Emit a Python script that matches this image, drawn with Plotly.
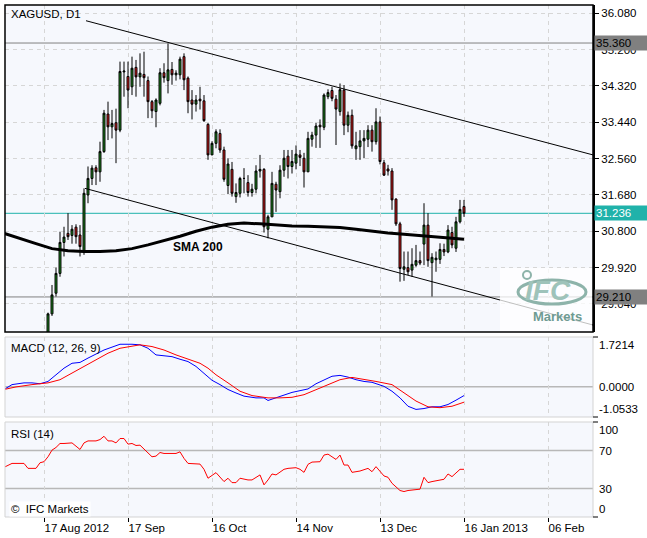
import plotly.graph_objects as go

W, H = 647, 538

# ---- data ----
# bar number: 10 = 17 Aug 2012 ... 115 = 16 Jan 2013 (last bar)
bars = list(range(116))

opens = [27.60, 27.85, 27.70, 27.95, 27.85, 28.05, 27.75, 27.90, 27.80, 27.70,
         27.95, 28.20, 28.80, 29.30, 29.78, 30.53, 30.75, 30.70, 30.90, 30.71,
         30.31, 31.68, 32.08, 32.34, 32.24, 32.73, 33.64, 33.33, 33.43, 33.25,
         34.66, 34.55, 34.30, 34.77, 34.54, 34.60, 34.45, 33.94, 33.70, 33.90,
         34.64, 34.45, 34.72, 34.59, 34.59, 35.03, 34.51, 33.98, 33.88, 34.00,
         33.96, 33.39, 32.65, 32.93, 33.17, 32.77, 31.91, 32.30, 31.64, 31.72,
         32.08, 31.98, 31.74, 31.82, 32.26, 32.30, 30.85, 31.15, 31.94, 31.76,
         32.28, 32.62, 32.37, 32.45, 32.65, 32.57, 32.24, 33.03, 33.13, 33.37,
         33.32, 34.06, 34.21, 34.00, 33.70, 34.22, 33.37, 33.61, 32.80, 32.85,
         32.99, 33.03, 33.25, 32.97, 33.45, 32.46, 32.31, 32.26, 31.58, 30.98,
         29.88, 29.92, 29.86, 29.98, 30.09, 30.49, 30.95, 30.04, 30.11, 30.12,
         30.36, 30.30, 30.77, 30.39, 31.03, 31.40]
highs = [27.95, 28.05, 28.00, 28.10, 28.20, 28.15, 28.00, 28.10, 28.00, 28.05,
         28.30, 28.83, 29.50, 29.92, 30.79, 30.91, 31.24, 30.95, 30.97, 30.95,
         31.84, 32.37, 32.40, 32.40, 32.97, 33.74, 33.94, 33.74, 33.77, 34.91,
         34.91, 34.91, 35.03, 34.95, 35.11, 35.15, 34.55, 33.98, 34.02, 34.75,
         34.87, 35.35, 34.90, 34.70, 35.03, 35.11, 34.55, 34.22, 34.10, 34.30,
         34.10, 33.42, 32.98, 33.27, 33.27, 32.85, 32.57, 32.48, 31.96, 32.12,
         32.33, 32.16, 31.95, 32.40, 32.65, 32.33, 31.20, 32.24, 32.00, 32.40,
         32.77, 32.77, 32.77, 32.88, 32.77, 32.70, 33.21, 33.21, 33.43, 33.51,
         34.14, 34.24, 34.30, 34.10, 34.38, 34.34, 33.70, 33.75, 33.21, 33.25,
         33.25, 33.37, 33.37, 33.78, 33.58, 32.53, 32.41, 32.33, 31.60, 31.03,
         30.31, 30.31, 30.39, 30.47, 30.31, 31.48, 31.24, 30.27, 30.31, 30.51,
         30.50, 30.95, 30.91, 31.15, 31.56, 31.56]
lows = [27.40, 27.55, 27.55, 27.75, 27.70, 27.65, 27.60, 27.70, 27.55, 27.60,
        27.85, 28.15, 28.75, 29.22, 29.70, 30.19, 30.59, 30.50, 30.50, 30.19,
        30.23, 31.48, 31.92, 31.92, 32.00, 32.70, 33.01, 33.05, 32.45, 33.20,
        34.06, 33.78, 34.10, 34.06, 34.30, 34.06, 33.54, 33.54, 33.32, 33.85,
        34.40, 34.14, 34.35, 34.45, 34.48, 34.22, 33.66, 33.51, 33.70, 33.75,
        33.45, 32.53, 32.65, 32.81, 32.70, 32.00, 31.70, 31.64, 31.49, 31.62,
        31.72, 31.64, 31.64, 31.72, 32.10, 30.77, 30.63, 31.15, 31.27, 31.60,
        32.12, 32.08, 32.20, 32.30, 32.38, 31.86, 32.24, 32.85, 32.82, 32.82,
        33.25, 34.00, 33.95, 32.89, 33.60, 33.13, 33.20, 32.80, 32.53, 32.53,
        32.57, 32.84, 32.73, 32.90, 32.42, 32.14, 32.15, 31.32, 30.93, 29.58,
        29.60, 29.74, 29.70, 29.94, 29.98, 29.98, 29.94, 29.22, 29.82, 30.01,
        30.20, 30.27, 30.39, 30.30, 30.99, 31.15]
closes = [27.85, 27.70, 27.95, 27.85, 28.05, 27.75, 27.90, 27.80, 27.70, 27.95,
          28.20, 28.80, 29.26, 29.78, 30.53, 30.66, 30.67, 30.85, 30.67, 30.43,
          31.72, 32.08, 32.33, 32.24, 32.73, 33.66, 33.33, 33.41, 33.25, 34.67,
          34.68, 34.22, 34.75, 34.54, 34.63, 34.52, 33.94, 33.72, 33.98, 34.64,
          34.52, 34.71, 34.59, 34.63, 34.97, 34.47, 33.94, 33.88, 33.98, 33.96,
          33.48, 32.65, 32.93, 33.21, 32.77, 32.06, 32.43, 31.72, 31.74, 32.08,
          32.08, 31.74, 31.82, 32.26, 32.30, 30.91, 31.15, 31.96, 31.80, 32.28,
          32.57, 32.37, 32.49, 32.67, 32.59, 32.24, 33.05, 33.13, 33.35, 33.33,
          34.10, 34.16, 34.02, 33.76, 34.23, 33.37, 33.61, 32.87, 32.87, 32.99,
          33.05, 33.25, 32.97, 33.45, 32.49, 32.16, 32.26, 31.56, 30.98, 29.90,
          29.94, 29.82, 30.00, 30.09, 30.03, 30.95, 30.09, 30.17, 30.15, 30.36,
          30.30, 30.83, 30.47, 31.03, 31.33, 31.236]

# SMA 200 (read every few bars)
sma_idx = [0, 4, 8, 12, 16, 20, 24, 28, 32, 36, 40, 44, 48, 52, 56, 60, 64,
           68, 72, 76, 80, 84, 88, 92, 96, 100, 104, 108, 112, 115]
sma_val = [30.75, 30.62, 30.50, 30.38, 30.33, 30.31, 30.31, 30.33, 30.38, 30.47,
           30.57, 30.68, 30.80, 30.90, 30.97, 31.00, 30.98, 30.95, 30.93, 30.92,
           30.91, 30.89, 30.85, 30.80, 30.76, 30.73, 30.70, 30.67, 30.64, 30.61]

# MACD (12, 26, 9)
macd_idx = [0, 2, 5, 7, 9, 11, 13, 15, 17, 19, 21, 23, 25, 27, 29, 32, 34, 36,
            38, 40, 42, 44, 46, 48, 50, 52, 54, 56, 58, 60, 63, 65, 66, 68, 70,
            72, 74, 76, 78, 80, 82, 84, 86, 88, 90, 92, 95, 97, 99, 101, 103,
            105, 107, 109, 111, 113, 115]
macd_val = [-0.10, 0.07, 0.13, 0.13, 0.10, 0.18, 0.41, 0.64, 0.81, 0.84, 0.99,
            1.14, 1.27, 1.37, 1.47, 1.47, 1.45, 1.33, 1.10, 1.07, 1.04, 0.95,
            0.87, 0.70, 0.47, 0.22, 0.07, -0.10, -0.22, -0.33, -0.39, -0.39,
            -0.48, -0.39, -0.28, -0.20, -0.14, -0.08, 0.10, 0.24, 0.36, 0.39,
            0.33, 0.24, 0.18, 0.15, 0.01, -0.16, -0.39, -0.68, -0.79, -0.76,
            -0.70, -0.70, -0.62, -0.47, -0.31]
signal_idx = [0, 3, 7, 11, 14, 17, 20, 23, 26, 29, 32, 34, 37, 40, 43, 46, 49,
              51, 53, 56, 59, 62, 66, 69, 72, 75, 78, 81, 84, 87, 90, 93, 97,
              100, 103, 106, 109, 112, 115]
signal_val = [-0.10, -0.01, 0.07, 0.13, 0.24, 0.47, 0.70, 0.93, 1.16, 1.33, 1.39,
              1.45, 1.39, 1.27, 1.10, 0.95, 0.81, 0.64, 0.41, 0.13, -0.16, -0.31,
              -0.39, -0.39, -0.37, -0.28, -0.10, 0.07, 0.24, 0.32, 0.26, 0.18,
              0.07, -0.22, -0.50, -0.70, -0.73, -0.68, -0.54]

# RSI (14)
rsi_idx = [0, 2, 4, 5, 6, 8, 9, 10, 11, 12, 13, 14, 15, 17, 19, 20, 21, 23, 24,
           25, 26, 27, 28, 29, 30, 31, 32, 33, 34, 36, 37, 38, 39, 40, 41, 43,
           44, 45, 46, 48, 49, 50, 51, 53, 55, 56, 57, 58, 59, 61, 62, 64, 65,
           66, 67, 68, 70, 71, 73, 74, 75, 76, 77, 79, 80, 81, 82, 83, 84, 85,
           86, 87, 88, 89, 91, 92, 93, 95, 96, 97, 99, 100, 101, 103, 104, 105,
           106, 107, 109, 110, 111, 112, 114, 115]
rsi_val = [52.3, 56.4, 56.4, 56.4, 51.2, 51.2, 57.1, 58.2, 63.4, 70.4, 73.2,
           77.4, 77.4, 78.0, 71.1, 78.0, 80.1, 80.1, 81.5, 85.0, 80.1, 80.1,
           78.0, 82.6, 82.6, 76.7, 77.4, 75.3, 75.6, 66.9, 63.4, 64.1, 67.9,
           66.9, 66.9, 66.9, 68.6, 61.7, 56.4, 55.7, 55.7, 50.2, 40.8, 46.7,
           37.3, 40.8, 36.2, 36.2, 40.8, 39.0, 39.0, 44.3, 33.8, 39.0, 45.3,
           44.3, 50.2, 51.2, 51.9, 50.2, 47.0, 55.4, 57.8, 58.2, 65.2, 66.2,
           63.4, 60.6, 65.2, 54.7, 54.7, 47.0, 47.7, 48.4, 51.2, 47.7, 53.0,
           43.2, 41.8, 35.5, 27.9, 26.8, 27.9, 29.3, 29.3, 41.8, 36.2, 37.3,
           39.0, 39.7, 45.3, 42.5, 50.2, 50.2]

# axis ticks
date_ticks = [10, 31, 52, 73, 94, 115, 136]
date_labels = ["17 Aug 2012", "17 Sep", "16 Oct", "14 Nov", "13 Dec",
               "16 Jan 2013", "06 Feb"]
price_ticks = [36.08, 35.20, 34.32, 33.44, 32.56, 31.68, 30.80, 29.92, 29.04]

# drawn objects
hlines = [35.36, 29.21]
bid = 31.236
upper_trend = [(20.5, 35.90), (147.25, 32.65)]
lower_trend = [(20.25, 31.84), (147.25, 28.53)]

# ---- layout in pixels ----
def fx(px):
    return px / W

def fy(py):
    return 1 - py / H

X0, X1 = 5, 593
MAIN = (5, 332)
MACD_P = (337, 417)
RSI_P = (422, 517)
xr = [0.25, 147.25]
yr = [28.361, 36.281]
FONT = "Liberation Sans, Arial, sans-serif"
GRID = "#D6D6D6"

fig = go.Figure()

fig.add_trace(go.Candlestick(
    x=bars, open=opens, high=highs, low=lows, close=closes,
    increasing=dict(fillcolor="#1E8C1E", line=dict(color="black", width=1)),
    decreasing=dict(fillcolor="#E01B1B", line=dict(color="black", width=1)),
    whiskerwidth=0, xaxis="x", yaxis="y", showlegend=False))
fig.add_trace(go.Scatter(x=sma_idx, y=sma_val, mode="lines",
                         line=dict(color="black", width=3),
                         xaxis="x", yaxis="y", showlegend=False))

fig.add_trace(go.Scatter(x=macd_idx, y=macd_val, mode="lines",
                         line=dict(color="#0000FF", width=1),
                         xaxis="x2", yaxis="y2", showlegend=False))
fig.add_trace(go.Scatter(x=signal_idx, y=signal_val, mode="lines",
                         line=dict(color="#FF0000", width=1),
                         xaxis="x2", yaxis="y2", showlegend=False))

fig.add_trace(go.Scatter(x=rsi_idx, y=rsi_val, mode="lines",
                         line=dict(color="#FF0000", width=1),
                         xaxis="x3", yaxis="y3", showlegend=False))

shapes = []
# horizontal lines / bid line
for v in hlines:
    shapes.append(dict(type="line", xref="paper", yref="y", x0=fx(X0), x1=fx(X1),
                       y0=v, y1=v, line=dict(color="#808080", width=1), layer="below"))
shapes.append(dict(type="line", xref="paper", yref="y", x0=fx(X0), x1=fx(X1),
                   y0=bid, y1=bid, line=dict(color="#20B2AA", width=1), layer="below"))
# channel
for (a, b) in (upper_trend, lower_trend):
    shapes.append(dict(type="line", xref="x", yref="y", x0=a[0], y0=a[1],
                       x1=b[0], y1=b[1], line=dict(color="black", width=1)))
# indicator levels
shapes.append(dict(type="line", xref="paper", yref="y2", x0=fx(X0), x1=fx(X1),
                   y0=0, y1=0, line=dict(color="#B8B8B8", width=1.5), layer="below"))
for v in (70, 30):
    shapes.append(dict(type="line", xref="paper", yref="y3", x0=fx(X0), x1=fx(X1),
                       y0=v, y1=v, line=dict(color="#B8B8B8", width=1.5), layer="below"))
# logo backdrop
shapes.append(dict(type="rect", xref="paper", yref="paper", x0=fx(500), x1=fx(592),
                   y0=fy(331), y1=fy(268), fillcolor="white", opacity=0.75,
                   line=dict(width=0)))
shapes.append(dict(type="circle", xref="paper", yref="paper", x0=fx(518), x1=fx(586),
                   y0=fy(304), y1=fy(280), line=dict(color="#8DB3AA", width=3)))
shapes.append(dict(type="circle", xref="paper", yref="paper", x0=fx(523), x1=fx(531),
                   y0=fy(279), y1=fy(271), line=dict(color="#8DB3AA", width=2)))
# panel borders
shapes.append(dict(type="rect", xref="paper", yref="paper", x0=fx(X0), x1=fx(X1),
                   y0=fy(MAIN[1]), y1=fy(MAIN[0]), line=dict(color="black", width=1.5)))
for p in (MACD_P, RSI_P):
    shapes.append(dict(type="rect", xref="paper", yref="paper", x0=fx(X0), x1=fx(X1),
                       y0=fy(p[1]), y1=fy(p[0]), line=dict(color="#D3D3D3", width=1)))
    for py in p:
        shapes.append(dict(type="line", xref="paper", yref="paper", x0=fx(X1),
                           x1=fx(X1 + 5), y0=fy(py), y1=fy(py),
                           line=dict(color="black", width=1)))

ann = []
def label(x, y, text, size=11.5, xref="paper", yref="paper", **kw):
    d = dict(x=x, y=y, xref=xref, yref=yref, text=text, showarrow=False,
             font=dict(family=FONT, size=size, color=kw.pop("color", "black")))
    d.update(kw)
    ann.append(d)

label(fx(9), fy(14), "XAGUSD, D1", xanchor="left", yanchor="middle")
label(fx(9), fy(348), "MACD (12, 26, 9)", xanchor="left", yanchor="middle")
label(fx(9), fy(434), "RSI (14)", xanchor="left", yanchor="middle")
label(fx(9), fy(509), "\u00a9  IFC Markets", xanchor="left", yanchor="middle",
      bgcolor="white")
label(48.5, 30.42, "<b>SMA 200</b>", size=12, xref="x", yref="y",
      xanchor="center", yanchor="middle")

# subpanel scale labels
label(fx(597), 1.7214, "1.7214", yref="y2", xanchor="left", yanchor="top")
label(fx(597), 0, "0.0000", yref="y2", xanchor="left", yanchor="middle")
label(fx(597), -1.0533, "-1.0533", yref="y2", xanchor="left", yanchor="bottom")
label(fx(597), 100, "100", yref="y3", xanchor="left", yanchor="top")
label(fx(597), 70, "70", yref="y3", xanchor="left", yanchor="middle")
label(fx(597), 30, "30", yref="y3", xanchor="left", yanchor="middle")
label(fx(597), 0, "0", yref="y3", xanchor="left", yanchor="bottom")

# price boxes on the right scale
for v, bg, fg in ((hlines[0], "#808080", "black"), (bid, "#20B2AA", "white"),
                  (hlines[1], "#808080", "black")):
    label(fx(594), v, "%.3f" % v, yref="y", xanchor="left", yanchor="middle",
          bgcolor=bg, color=fg, width=56, align="left", borderpad=1)

# logo
label(fx(548), fy(290), "<b><i>IFC</i></b>", size=28, color="#9EC3BA",
      xanchor="center", yanchor="middle")
label(fx(557), fy(316), "<b>Markets</b>", size=13, color="#6E9B92",
      xanchor="center", yanchor="middle")

xcommon = dict(range=xr, domain=[fx(X0), fx(X1)], tickvals=date_ticks,
               showgrid=True, gridcolor=GRID, griddash="4px,4px", gridwidth=1,
               zeroline=False, showline=False, fixedrange=True)

fig.update_layout(
    width=W, height=H,
    margin=dict(l=0, r=0, t=0, b=0),
    paper_bgcolor="white",
    plot_bgcolor="#F6F8FD",
    font=dict(family=FONT, size=11.5, color="black"),
    xaxis=dict(**xcommon, anchor="y", showticklabels=False, ticks="",
               rangeslider=dict(visible=False)),
    xaxis2=dict(**xcommon, anchor="y2", matches="x", showticklabels=False, ticks=""),
    xaxis3=dict(**xcommon, anchor="y3", matches="x", ticktext=date_labels,
                ticks="outside", ticklen=4, tickcolor="black",
                ticklabelposition="outside right",
                tickfont=dict(family=FONT, size=11.5)),
    yaxis=dict(domain=[fy(MAIN[1]), fy(MAIN[0])], range=yr, side="right",
               anchor="x", tickvals=price_ticks,
               ticktext=["%.3f" % v for v in price_ticks],
               ticks="outside", ticklen=4, tickcolor="black",
               showline=True, linecolor="black", linewidth=2,
               showgrid=True, gridcolor=GRID, griddash="4px,4px",
               zeroline=False, fixedrange=True,
               tickfont=dict(family=FONT, size=11.5)),
    yaxis2=dict(domain=[fy(MACD_P[1]), fy(MACD_P[0])], range=[-1.0533, 1.7214],
                anchor="x2", showticklabels=False, ticks="", showgrid=False,
                zeroline=False, fixedrange=True),
    yaxis3=dict(domain=[fy(RSI_P[1]), fy(RSI_P[0])], range=[0, 100],
                anchor="x3", showticklabels=False, ticks="", showgrid=False,
                zeroline=False, fixedrange=True),
    shapes=shapes,
    annotations=ann,
    showlegend=False,
)

# page body has a default 8px margin; drop it so the chart sits at 0,0
fig.write_html("out.html", config={"displayModeBar": False},
               post_script="document.body.style.margin='0px';")
